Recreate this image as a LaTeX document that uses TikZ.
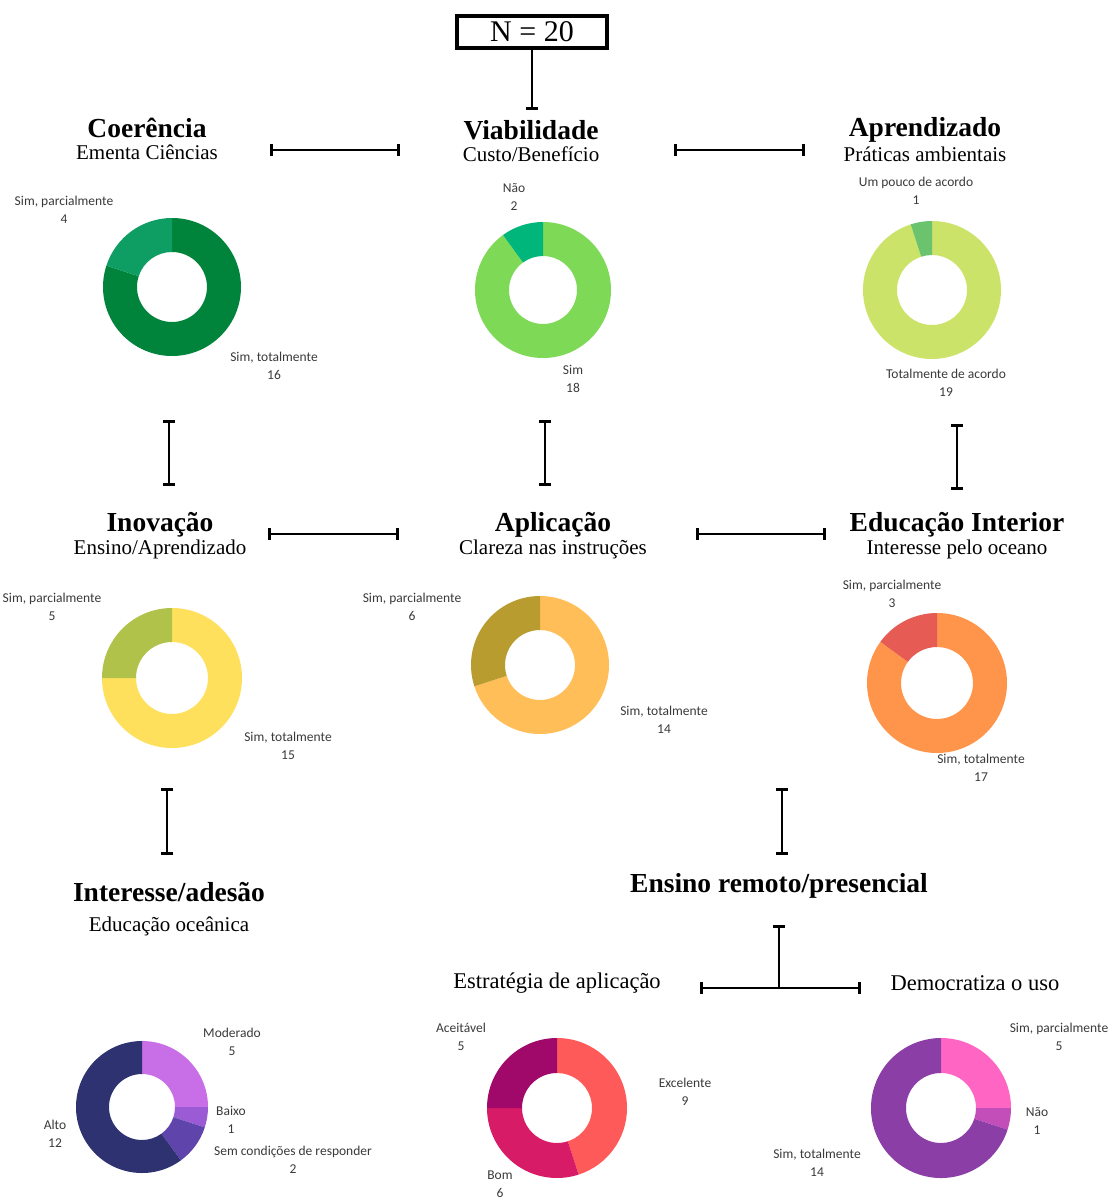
\documentclass[tikz,border=0pt]{standalone}
\usepackage{fontspec}
\setmainfont{Liberation Serif}
\newfontfamily\chartfont{Carlito}
\usetikzlibrary{arrows.meta}

\definecolor{labelgray}{HTML}{3A3A3A}
\definecolor{coeA}{HTML}{00843C}
\definecolor{coeB}{HTML}{0E9E63}
\definecolor{viaA}{HTML}{7ED957}
\definecolor{viaB}{HTML}{00B67A}
\definecolor{aprA}{HTML}{CCE36A}
\definecolor{aprB}{HTML}{6CC36E}
\definecolor{inoA}{HTML}{FFE05C}
\definecolor{inoB}{HTML}{B1C24B}
\definecolor{aplA}{HTML}{FFBE58}
\definecolor{aplB}{HTML}{B89C30}
\definecolor{eduA}{HTML}{FF944B}
\definecolor{eduB}{HTML}{E65C55}
\definecolor{intA}{HTML}{C86EE6}
\definecolor{intB}{HTML}{9B5BD4}
\definecolor{intC}{HTML}{5F45AB}
\definecolor{intD}{HTML}{2E3270}
\definecolor{estA}{HTML}{FF5A5A}
\definecolor{estB}{HTML}{D81B66}
\definecolor{estC}{HTML}{A0086A}
\definecolor{demA}{HTML}{FF66C4}
\definecolor{demB}{HTML}{C34DB9}
\definecolor{demC}{HTML}{8B3FA6}

\tikzset{
    title/.style={font=\fontsize{27.5}{30}\selectfont\bfseries, inner sep=0pt},
    subtitle/.style={font=\fontsize{21}{24}\selectfont, inner sep=0pt},
    branch/.style={font=\fontsize{22.5}{26}\selectfont, inner sep=0pt},
    lbl/.style={font=\chartfont\fontsize{13.5}{18}\selectfont, text=labelgray, align=center, inner sep=0pt},
    link/.style={line width=2.6pt, {Bar[width=12pt]}-{Bar[width=12pt]}}
}

% ring chart: centre, outer radius, inner radius, {start/end/colour,...}
\newcommand{\donut}[4]{%
    \begin{scope}[shift={(#1)}]
        \foreach \from/\to/\col in {#4}
            \fill[\col] (\from:#2) arc[start angle=\from, end angle=\to, radius=#2]
                -- (\to:#3) arc[start angle=\to, end angle=\from, radius=#3] -- cycle;
    \end{scope}}

\begin{document}
\begin{tikzpicture}[x=1pt, y=1pt]
    \useasboundingbox[fill=white] (0,0) rectangle (1117,-1202);

    \node[draw, line width=4pt, minimum width=150pt, minimum height=32pt,
        font=\fontsize{30}{32}\selectfont] (total) at (532,-32) {N = 20};
    \coordinate (totalend) at (532,-110);
    \draw[line width=2.6pt, -{Bar[width=12pt]}] (total.south) -- (totalend);

    % first row
    \node[title] (coe) at (147,-128) {Coerência};
    \node[subtitle] (coesub) at (147,-152) {Ementa Ciências};
    \node[title] (via) at (531,-130) {Viabilidade};
    \node[subtitle] (viasub) at (531,-154) {Custo/Benefício};
    \node[title] (apr) at (925,-130) {Aprendizado};
    \node[subtitle] (aprsub) at (925,-154) {Práticas ambientais};

    \coordinate (h1a) at (270,-150);
    \coordinate (h1b) at (400,-150);
    \coordinate (h2a) at (674,-150);
    \coordinate (h2b) at (805,-150);
    \draw[link] (h1a) -- (h1b);
    \draw[link] (h2a) -- (h2b);

    \donut{172,-287}{69}{35}{90/-198/coeA, -198/-270/coeB}
    \node[lbl] (coel1) at (64,-210) {Sim, parcialmente\\4};
    \node[lbl] (coel2) at (274,-366) {Sim, totalmente\\16};

    \donut{543,-290}{68}{34}{90/-234/viaA, -234/-270/viaB}
    \node[lbl] (vial1) at (514,-197) {Não\\2};
    \node[lbl] (vial2) at (573,-379) {Sim\\18};

    \donut{932,-290}{69}{35}{90/-252/aprA, -252/-270/aprB}
    \node[lbl] (aprl1) at (916,-191) {Um pouco de acordo\\1};
    \node[lbl] (aprl2) at (946,-383) {Totalmente de acordo\\19};

    \coordinate (v1a) at (169,-420);
    \coordinate (v1b) at (169,-486);
    \coordinate (v2a) at (545,-420);
    \coordinate (v2b) at (545,-486);
    \coordinate (v3a) at (957,-424);
    \coordinate (v3b) at (957,-490);
    \draw[link] (v1a) -- (v1b);
    \draw[link] (v2a) -- (v2b);
    \draw[link] (v3a) -- (v3b);

    % second row
    \node[title] (ino) at (160,-525) {Inovação};
    \node[subtitle] (inosub) at (160,-549) {Ensino/Aprendizado};
    \node[title] (apl) at (553,-525) {Aplicação};
    \node[subtitle] (aplsub) at (553,-549) {Clareza nas instruções};
    \node[title] (edu) at (957,-525) {Educação Interior};
    \node[subtitle] (edusub) at (957,-549) {Interesse pelo oceano};

    \coordinate (h3a) at (268,-534);
    \coordinate (h3b) at (399,-534);
    \coordinate (h4a) at (696,-534);
    \coordinate (h4b) at (826,-534);
    \draw[link] (h3a) -- (h3b);
    \draw[link] (h4a) -- (h4b);

    \donut{172,-678}{70}{36}{90/-180/inoA, -180/-270/inoB}
    \node[lbl] (inol1) at (52,-607) {Sim, parcialmente\\5};
    \node[lbl] (inol2) at (288,-746) {Sim, totalmente\\15};

    \donut{540,-665}{69}{35}{90/-162/aplA, -162/-270/aplB}
    \node[lbl] (apll1) at (412,-607) {Sim, parcialmente\\6};
    \node[lbl] (apll2) at (664,-720) {Sim, totalmente\\14};

    \donut{937,-683}{70}{36}{90/-216/eduA, -216/-270/eduB}
    \node[lbl] (edul1) at (892,-594) {Sim, parcialmente\\3};
    \node[lbl] (edul2) at (981,-768) {Sim, totalmente\\17};

    \coordinate (v4a) at (167,-788);
    \coordinate (v4b) at (167,-855);
    \coordinate (v5a) at (782,-788);
    \coordinate (v5b) at (782,-855);
    \draw[link] (v4a) -- (v4b);
    \draw[link] (v5a) -- (v5b);

    % third row
    \node[title] (int) at (169,-892) {Interesse/adesão};
    \node[subtitle] (intsub) at (169,-926) {Educação oceânica};
    \node[title] (ens) at (779,-886) {Ensino remoto/presencial};

    \coordinate (ensend) at (779,-925);
    \coordinate (fork) at (779,-988);
    \coordinate (forka) at (700,-988);
    \coordinate (forkb) at (861,-988);
    \draw[line width=2.6pt, {Bar[width=12pt]}-] (ensend) -- (fork);
    \draw[link] (forka) -- (forkb);
    \node[branch] (est) at (557,-983) {Estratégia de aplicação};
    \node[branch] (dem) at (975,-983) {Democratiza o uso};

    \donut{142,-1107}{66}{33}{90/0/intA, 0/-18/intB, -18/-54/intC, -54/-270/intD}
    \node[lbl] (intl1) at (232,-1042) {Moderado\\5};
    \node[lbl] (intl2) at (231,-1120) {Baixo\\1};
    \node[lbl] (intl3) at (293,-1160) {Sem condições de responder\\2};
    \node[lbl] (intl4) at (55,-1134) {Alto\\12};

    \donut{557,-1108}{70}{35}{90/-72/estA, -72/-180/estB, -180/-270/estC}
    \node[lbl] (estl1) at (461,-1037) {Aceitável\\5};
    \node[lbl] (estl2) at (685,-1092) {Excelente\\9};
    \node[lbl] (estl3) at (500,-1184) {Bom\\6};

    \donut{941,-1108}{70}{35}{90/0/demA, 0/-18/demB, -18/-270/demC}
    \node[lbl] (deml1) at (1059,-1037) {Sim, parcialmente\\5};
    \node[lbl] (deml2) at (1037,-1121) {Não\\1};
    \node[lbl] (deml3) at (817,-1163) {Sim, totalmente\\14};
\end{tikzpicture}
\end{document}
